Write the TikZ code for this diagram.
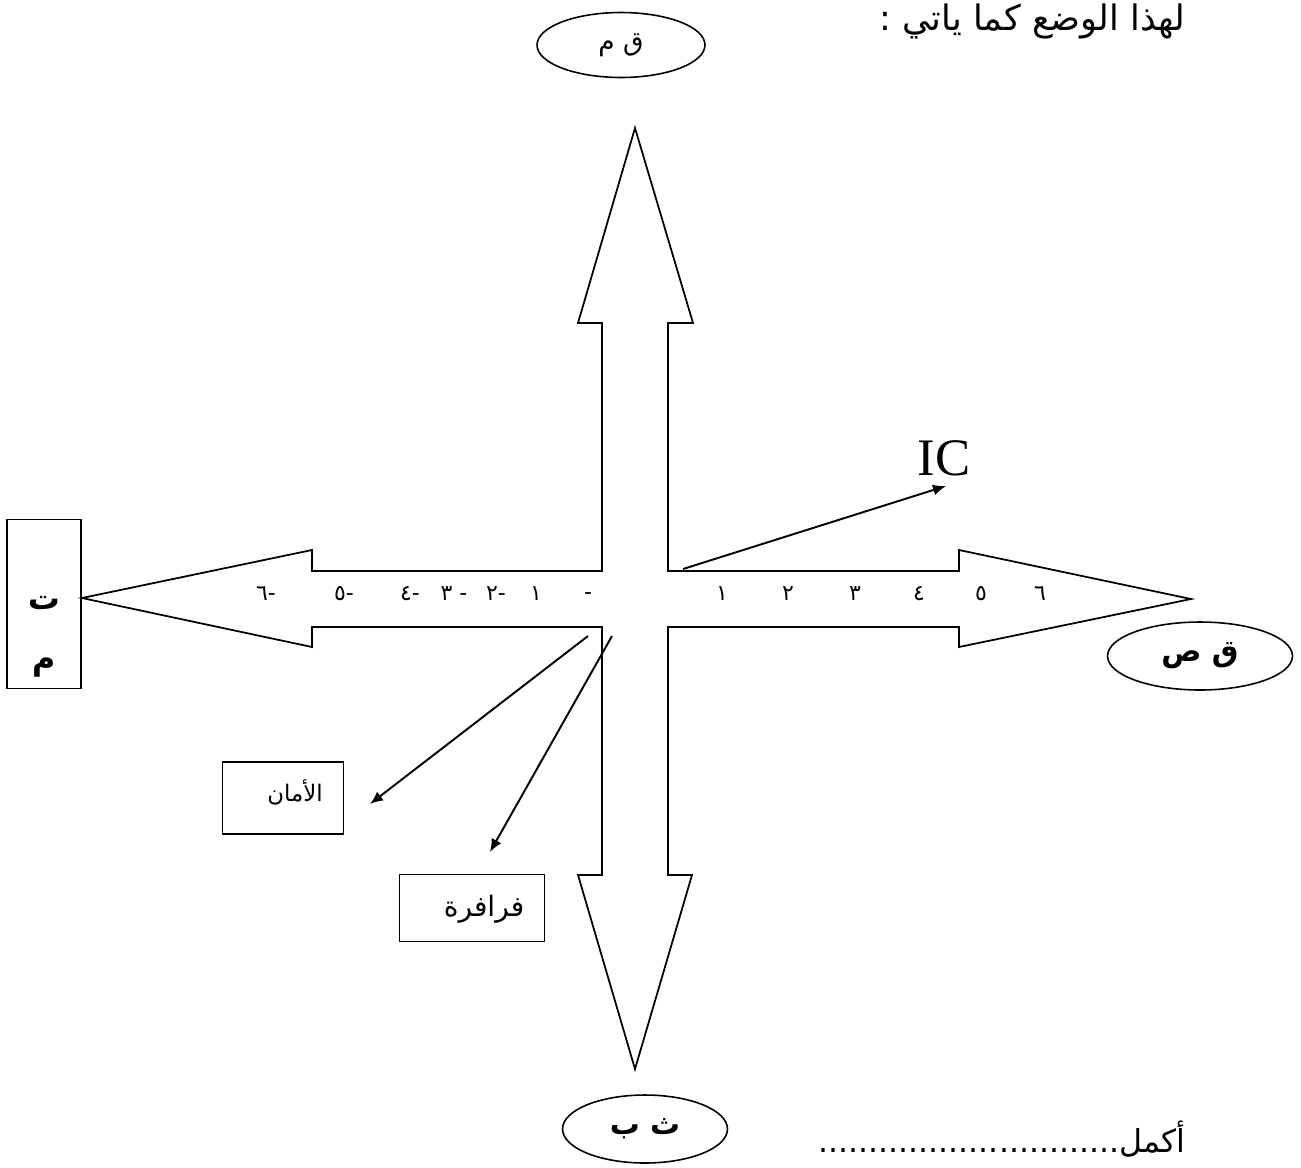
\documentclass[tikz,border=0pt]{standalone}
\usepackage{fontspec}
\setmainfont{Liberation Serif}
\newfontfamily\arabicfont[Script=Arabic]{DejaVu Sans}
\TeXXeTstate=1
\usetikzlibrary{arrows.meta,shapes.geometric}

\begin{document}
\begin{tikzpicture}[
    x=0.02cm, y=-0.02cm,
    oval/.style={draw, ellipse, line width=0.9pt, inner sep=0pt, font=\arabicfont\fontsize{15}{18}\selectfont},
    tagbox/.style={draw, rectangle, line width=0.9pt, inner sep=0pt},
    numlab/.style={inner sep=0pt, font=\arabicfont\fontsize{12.5}{15}\selectfont},
    arr/.style={-{Latex[length=2.6mm,width=2.2mm]}, line width=1.1pt}
  ]
  \useasboundingbox (0,0) rectangle (1301,1167);

  % the four-way arrow
  \draw[line width=1pt, line join=miter]
    (602,571) -- (602,323) -- (578,323) -- (635,128) -- (693,323) -- (668,323)
    -- (668,571) -- (959,571) -- (959,550) -- (1191,599) -- (959,647) -- (959,627)
    -- (668,627) -- (668,875) -- (692,875) -- (635,1069) -- (578,875) -- (602,875)
    -- (602,627) -- (312,627) -- (312,647) -- (82,598) -- (312,550) -- (312,571) -- cycle;

  % axis ends
  \node[oval, minimum width=3.36cm, minimum height=1.3cm] (qm) at (621,45) {\beginR ق م\endR};
  \node[oval, minimum width=3.7cm, minimum height=1.36cm, font=\arabicfont\bfseries\fontsize{17}{20}\selectfont] (qs) at (1200,656) {\beginR ق ص\endR};
  \node[oval, minimum width=3.3cm, minimum height=1.36cm, font=\arabicfont\bfseries\fontsize{17}{20}\selectfont] (thb) at (645,1129) {\beginR ث ب\endR};
  \node[tagbox, minimum width=1.48cm, minimum height=3.38cm, align=center,
        font=\arabicfont\bfseries\fontsize{18}{34}\selectfont] (tm) at (44,604) {\mbox{}\\[11pt]\beginR ت\endR\\\beginR م\endR};

  % scale marks
  \foreach \x/\t in {722/١, 788/٢, 855/٣, 919/٤, 981/٥, 1040/٦}
    \node[numlab] (p\x) at (\x,594) {\beginR \t\endR};
  \foreach \x/\t in {266/-٦, 344/-٥, 410/-٤, 454/- ٣, 496/-٢}
    \node[numlab] (n\x) at (\x,594) {\beginR \t\endR};
  \node[numlab] (n536) at (536,594) {\beginR ١\endR};
  \node[numlab] (n588) at (588,596) {-};

  % labelled boxes
  \node[tagbox, minimum width=2.42cm, minimum height=1.44cm] (aman) at (283,798) {};
  \node[inner sep=0pt, font=\arabicfont\fontsize{13}{15}\selectfont] (amantxt) at (295,792) {\beginR الأمان\endR};
  \node[tagbox, minimum width=2.9cm, minimum height=1.34cm] (fraf) at (472,908) {};
  \node[inner sep=0pt, font=\arabicfont\fontsize{16}{19}\selectfont] (fraftxt) at (484,909) {\beginR فرافرة\endR};
  \node[inner sep=0pt, font=\fontsize{30}{34}\selectfont] (ic) at (944,458) {IC};

  % pointers
  \coordinate (c1) at (588,636);
  \coordinate (e1) at (370,804);
  \coordinate (c2) at (612,636);
  \coordinate (e2) at (490,852);
  \coordinate (c3) at (683,569);
  \coordinate (e3) at (946,486);
  \draw[arr] (c1) -- (e1);
  \draw[arr] (c2) -- (e2);
  \draw[arr] (c3) -- (e3);

  % texts
  \node[inner sep=0pt, anchor=base east, font=\arabicfont\fontsize{20}{24}\selectfont] (head) at (1186,30) {\beginR لهذا الوضع كما ياتي :\endR};
  \node[inner sep=0pt, anchor=base east, font=\arabicfont\fontsize{18}{21}\selectfont] (done) at (1186,1152) {\beginR أكمل..............................\endR};
\end{tikzpicture}
\end{document}
